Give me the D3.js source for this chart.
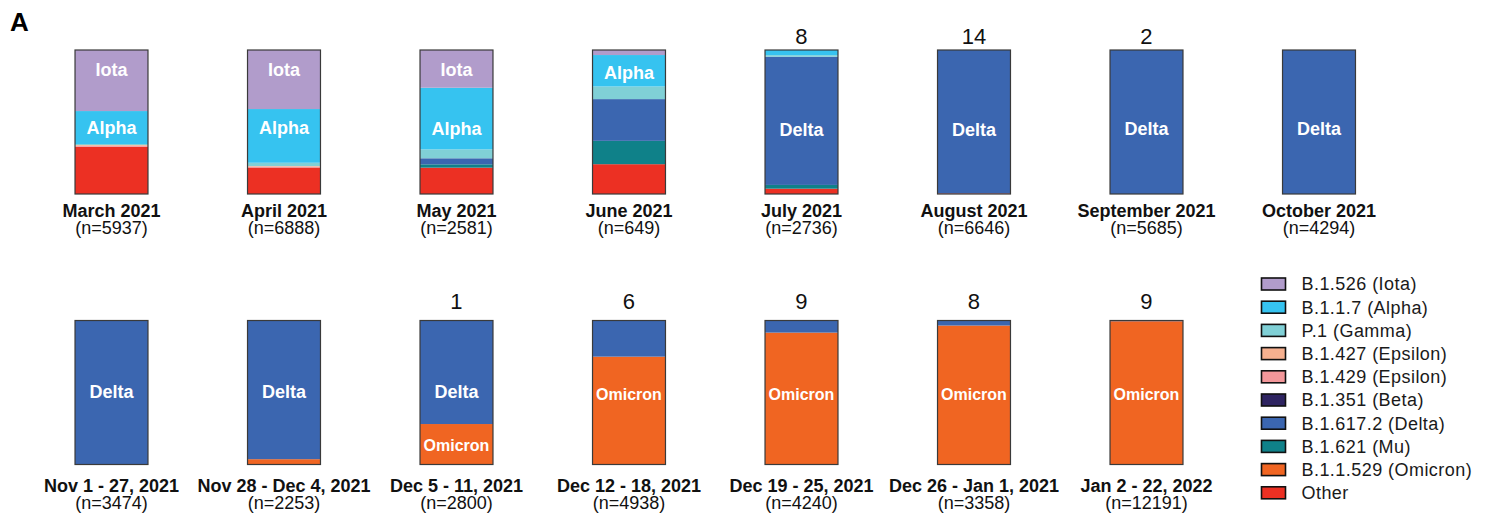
<!DOCTYPE html>
<html>
<head>
<meta charset="utf-8">
<script src="https://cdn.jsdelivr.net/npm/d3@7"></script>
<style>
  html, body { margin: 0; padding: 0; background: #fff; }
  svg { display: block; font-family: Arial, "Liberation Sans", Helvetica, sans-serif; }
</style>
</head>
<body>
<svg id="chart" width="1491" height="519"></svg>
<script>
// Sampling periods, two rows (8 + 7)
const periods = [
  "March 2021", "April 2021", "May 2021", "June 2021", "July 2021",
  "August 2021", "September 2021", "October 2021",
  "Nov 1 - 27, 2021", "Nov 28 - Dec 4, 2021", "Dec 5 - 11, 2021",
  "Dec 12 - 18, 2021", "Dec 19 - 25, 2021", "Dec 26 - Jan 1, 2021", "Jan 2 - 22, 2022"
];
const sampleSizes = [5937, 6888, 2581, 649, 2736, 6646, 5685, 4294, 3474, 2253, 2800, 4938, 4240, 3358, 12191];
const topCounts = ["", "", "", "", "8", "14", "2", "", "", "", "1", "6", "9", "8", "9"];

// Lineage share (%) per period
const iota      = [42.4, 41.0, 26.2,  3.5,  0,    0,    0,   0,   0,    0,    0,    0,    0,    0,    0];
const alpha     = [22.9, 37.3, 42.8, 21.8,  3.6,  0,    0,   0,   0,    0,    0,    0,    0,    0,    0];
const gamma     = [ 0.7,  2.3,  6.2,  8.8,  1.1,  0,    0,   0,   0,    0,    0,    0,    0,    0,    0];
const epsilon427= [ 0.5,  0.4,  0,    0,    0,    0,    0,   0,   0,    0,    0,    0,    0,    0,    0];
const epsilon429= [ 0.7,  0.6,  0,    0,    0,    0,    0,   0,   0,    0,    0,    0,    0,    0,    0];
const beta      = [ 0,    0,    0,    0,    0,    0,    0,   0,   0,    0,    0,    0,    0,    0,    0];
const delta     = [ 0,    0,    4.2, 29.0, 89.0, 99.6, 100, 100, 100, 96.3, 71.9, 25.1,  8.4,  3.5,  0.5];
const mu        = [ 0,    0,    2.3, 16.2,  2.6,  0,    0,   0,   0,    0,    0,    0,    0,    0,    0];
const omicron   = [ 0,    0,    0,    0,    0,    0,    0,   0,   0,    3.7, 28.1, 74.9, 91.6, 96.5, 99.5];
const other     = [32.8, 18.4, 18.3, 20.7,  3.7,  0.4,  0,   0,   0,    0,    0,    0,    0,    0,    0];

// Legend names (top to bottom)
const legendNames = [
  "B.1.526 (Iota)", "B.1.1.7 (Alpha)", "P.1 (Gamma)", "B.1.427 (Epsilon)",
  "B.1.429 (Epsilon)", "B.1.351 (Beta)", "B.1.617.2 (Delta)", "B.1.621 (Mu)",
  "B.1.1.529 (Omicron)", "Other"
];
const seriesValues = [iota, alpha, gamma, epsilon427, epsilon429, beta, delta, mu, omicron, other];
const seriesColors = ["#b19ccb", "#36c3f0", "#80d0d6", "#f6b08f", "#f3979a",
                      "#2e2461", "#3b66b0", "#0f8189", "#f06522", "#ec3023"];

// In-bar annotations: period index, text, height (%) where the text sits
const barLabels = [
  [0, "Iota", 86], [0, "Alpha", 46], [1, "Iota", 86], [1, "Alpha", 45.8],
  [2, "Iota", 86], [2, "Alpha", 45.6], [3, "Alpha", 84.5],
  [4, "Delta", 45], [5, "Delta", 45], [6, "Delta", 45.6], [7, "Delta", 45.6],
  [8, "Delta", 50.6], [9, "Delta", 50.6], [10, "Delta", 50.6], [10, "Omicron", 13],
  [11, "Omicron", 48.7], [12, "Omicron", 48.7], [13, "Omicron", 48.7], [14, "Omicron", 48.7]
];

const svg = d3.select("#chart");

// Build a row-per-period table for d3.stack; bottom of the stack is "Other"
const keys = legendNames.slice().reverse();
const table = periods.map((p, i) => {
  const row = { period: p, index: i };
  legendNames.forEach((k, s) => { row[k] = seriesValues[s][i]; });
  return row;
});
const stacked = d3.stack().keys(keys)(table);
const color = d3.scaleOrdinal().domain(legendNames).range(seriesColors);

// Column positions shared by both rows
const perRow = 8;
const x = d3.scaleBand()
  .domain(d3.range(perRow))
  .range([25.25, 1405.25])
  .paddingInner(0.577)
  .paddingOuter(0.2885);

const rows = [
  { offset: 0,     nameDy: 22.5, nDy: 40,   countDy: -6 },
  { offset: 270.5, nameDy: 27,   nDy: 44.7, countDy: -11.7 }
];
const y = d3.scaleLinear().domain([0, 100]).range([194, 50]);

const rowOf = i => (i < perRow ? 0 : 1);
const colOf = i => (i < perRow ? i : i - perRow);

// Panel letter
svg.append("text").attr("x", 10).attr("y", 30.5)
  .attr("font-size", 26).attr("font-weight", "bold").text("A");

const bars = svg.selectAll("g.bar").data(table).join("g")
  .attr("class", "bar")
  .attr("transform", d => `translate(${x(colOf(d.index))},${rows[rowOf(d.index)].offset})`);

// Stacked segments
bars.each(function(d) {
  const g = d3.select(this);
  stacked.forEach(layer => {
    const seg = layer[d.index];
    if (seg[1] - seg[0] <= 0) return;
    g.append("rect")
      .attr("x", 0)
      .attr("width", x.bandwidth())
      .attr("y", y(seg[1]))
      .attr("height", y(seg[0]) - y(seg[1]))
      .attr("fill", color(layer.key));
  });
});

// Bar outline
bars.append("rect")
  .attr("x", 0).attr("width", x.bandwidth())
  .attr("y", y(100)).attr("height", y(0) - y(100))
  .attr("fill", "none").attr("stroke", "#3a3a3a").attr("stroke-width", 1.2);

// Period name and sample size
bars.append("text")
  .attr("x", x.bandwidth() / 2)
  .attr("y", d => y(0) + rows[rowOf(d.index)].nameDy)
  .attr("text-anchor", "middle").attr("font-size", 18).attr("font-weight", "bold")
  .attr("fill", "#111")
  .text(d => d.period);
bars.append("text")
  .attr("x", x.bandwidth() / 2)
  .attr("y", d => y(0) + rows[rowOf(d.index)].nDy)
  .attr("text-anchor", "middle").attr("font-size", 18)
  .attr("fill", "#111")
  .text(d => `(n=${sampleSizes[d.index]})`);

// Count above bars
bars.append("text")
  .attr("x", x.bandwidth() / 2)
  .attr("y", d => y(100) + rows[rowOf(d.index)].countDy)
  .attr("text-anchor", "middle").attr("font-size", 22)
  .attr("fill", "#111")
  .text(d => topCounts[d.index]);

// Lineage names inside bars
svg.selectAll("text.inbar").data(barLabels).join("text")
  .attr("class", "inbar")
  .attr("x", d => x(colOf(d[0])) + x.bandwidth() / 2)
  .attr("y", d => y(d[2]) + rows[rowOf(d[0])].offset)
  .attr("dy", "0.35em")
  .attr("text-anchor", "middle")
  .attr("font-weight", "bold")
  .attr("font-size", d => d[1] === "Omicron" ? 16 : 18)
  .attr("fill", "#fff")
  .text(d => d[1]);

// Legend
const legend = svg.append("g").attr("transform", "translate(1261.5,284)");
const legendStep = 23.2;
const item = legend.selectAll("g").data(legendNames).join("g")
  .attr("transform", (d, i) => `translate(0,${i * legendStep})`);
item.append("rect")
  .attr("x", 0).attr("y", -6).attr("width", 24).attr("height", 12)
  .attr("fill", d => color(d)).attr("stroke", "#111").attr("stroke-width", 1.6);
item.append("text")
  .attr("x", 40).attr("y", 0).attr("dy", "0.36em")
  .attr("font-size", 18).attr("letter-spacing", 0.45)
  .attr("fill", "#1a1a1a")
  .text(d => d);
</script>
</body>
</html>
